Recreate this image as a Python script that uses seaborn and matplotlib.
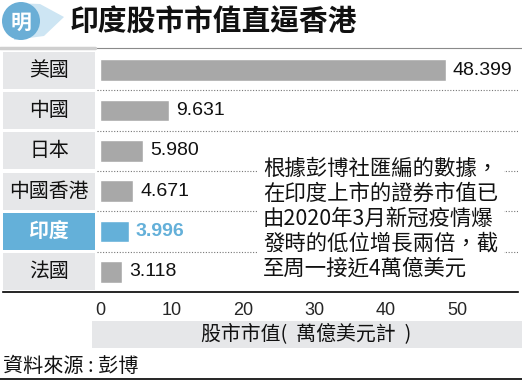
import matplotlib
matplotlib.use("Agg")
import matplotlib.pyplot as plt
import seaborn as sns
import pandas as pd
from matplotlib.patches import Rectangle, Circle, Polygon

sns.set_theme(style="white")
CJK = ['Noto Sans CJK TC', 'Liberation Sans', 'DejaVu Sans']
plt.rcParams['font.family'] = CJK

categories = ["美國", "中國", "日本", "中國香港", "印度", "法國"]
values = [48.399, 9.631, 5.980, 4.671, 3.996, 3.118]
value_labels = ["48.399", "9.631", "5.980", "4.671", "3.996", "3.118"]
highlight = "印度"
xticks = [0, 10, 20, 30, 40, 50]
title = "印度股市市值直逼香港"
xlabel = "股市市值(  萬億美元計  )"
source = "資料來源 : 彭博"
note = "根據彭博社匯編的數據，\n在印度上市的證券市值已\n由2020年3月新冠疫情爆\n發時的低位增長兩倍，截\n至周一接近4萬億美元"

GRAY = "#a8a8a8"
BLUE = "#64b0d9"
BOXG = "#e6e7e9"

W, H = 522, 381
fig = plt.figure(figsize=(W / 100, H / 100), dpi=100)
fx = lambda px: px / W
fy = lambda py: 1 - py / H

ax = fig.add_axes([fx(3), fy(292), fx(515), 242 / H])
df = pd.DataFrame({"cat": categories, "val": values})
pal = {c: (BLUE if c == highlight else GRAY) for c in categories}
sns.barplot(data=df, x="val", y="cat", hue="cat", palette=pal, legend=False,
            orient="h", width=0.545, saturation=1, ax=ax)

px_per = (457 - 100) / 50.0
ax.set_xlim((3 - 100) / px_per, (518 - 100) / px_per)
ax.set_ylim(5.5, -0.5)
ax.set_xticks(xticks)
ax.set_xticklabels([str(t) for t in xticks], fontsize=13, family=['Liberation Sans'])
ax.set_yticks([])
ax.set_xlabel("")
ax.set_ylabel("")
for s in ["top", "right", "left"]:
    ax.spines[s].set_visible(False)
ax.spines["bottom"].set_color("black")
ax.spines["bottom"].set_linewidth(1.2)
ax.tick_params(axis="x", direction="out", length=4, width=1, color="black", pad=3)
ax.set_facecolor("white")

box_l = (3 - 100) / px_per
box_r = (95 - 100) / px_per
for i, (c, v, lab) in enumerate(zip(categories, values, value_labels)):
    hl = c == highlight
    ax.add_patch(Rectangle((box_l, i - 0.458), box_r - box_l, 0.916,
                           facecolor=BLUE if hl else BOXG, edgecolor="none", zorder=0))
    ax.text((box_l + box_r) / 2, i, c, ha="center", va="center", fontsize=14.3,
            color="white" if hl else "#111111", fontweight="bold" if hl else "medium")
    ax.text(v + 1.0, i, lab, ha="left", va="center", fontsize=14,
            family=['Liberation Sans'], color=BLUE if hl else "#111111",
            fontweight="bold" if hl else "normal")
    if i < len(categories) - 1:
        ax.plot([(97 - 100) / px_per, (518 - 100) / px_per], [i + 0.5, i + 0.5],
                linestyle=(0, (1, 1.5)), color="#777777", linewidth=0.8, zorder=0.5)

# annotation
fig.text(fx(263), fy(158), note, ha="left", va="top", fontsize=15.4, color="#111111",
         linespacing=1.165, fontweight="medium",
         bbox=dict(facecolor="white", edgecolor="none", pad=4))

# x-label box
fig.patches.append(Rectangle((fx(92), fy(348)), fx(430), 27 / H, transform=fig.transFigure,
                             facecolor=BOXG, edgecolor="none"))
fig.text(fx(306), fy(334), xlabel, ha="center", va="center", fontsize=14.3, color="#111111")

# source & bottom line
fig.text(fx(3), fy(366), source, ha="left", va="center", fontsize=14.5, color="#111111")
fig.add_artist(plt.Line2D([0, 1], [fy(379), fy(379)], transform=fig.transFigure,
                          color="black", linewidth=1.2))

# title line
fig.add_artist(plt.Line2D([0, 1], [fy(48), fy(48)], transform=fig.transFigure,
                          color="#8a8a8a", linewidth=0.8))
fig.add_artist(plt.Line2D([0, fx(95)], [fy(48), fy(48)], transform=fig.transFigure,
                          color="#cfcfcf", linewidth=2.5))

# logo
logo_ax = fig.add_axes([0, fy(44), fx(66), 44 / H])
logo_ax.set_xlim(0, 66)
logo_ax.set_ylim(44, 0)
logo_ax.axis("off")
logo_ax.add_patch(Polygon([(14, 3), (40, 4), (64, 17), (44, 36), (14, 40)],
                          closed=True, facecolor="#cde5f3", edgecolor="none", zorder=1))
logo_ax.add_patch(Circle((21, 21), 19, facecolor="#6aaed6", edgecolor="none", zorder=2))
logo_ax.text(21, 22, "明", ha="center", va="center", fontsize=15, color="white",
             fontweight="bold", style="italic", zorder=3)

fig.text(fx(70), fy(21), title, ha="left", va="center", fontsize=20.7, fontweight="bold",
         color="#111111")

fig.savefig("out.png", dpi=100)
